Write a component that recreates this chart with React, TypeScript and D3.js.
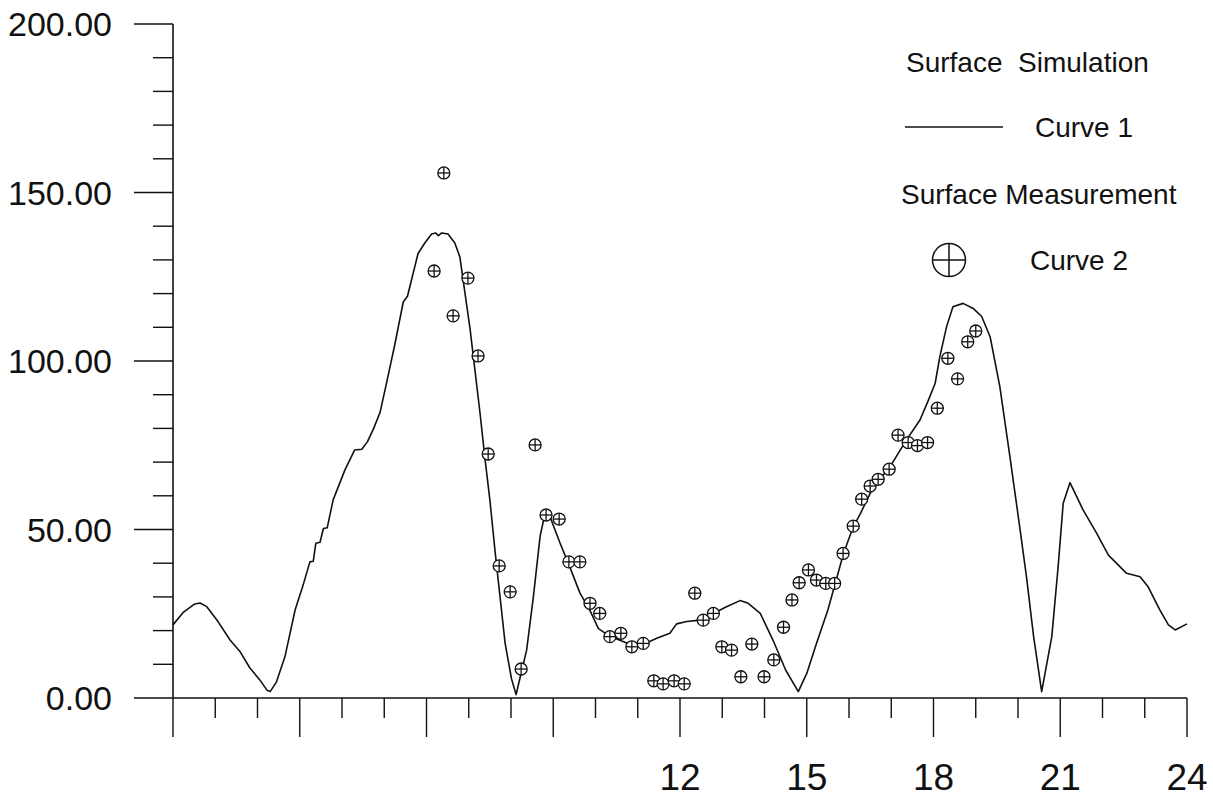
import React from "react";
import * as d3 from "d3";

// Simulated surface values (Curve 1), hour of day vs. value
const simHours = [
  0, 0.25, 0.5, 0.64, 0.8, 1.07, 1.35, 1.59, 1.82, 2.06, 2.22, 2.3, 2.45, 2.65, 2.89,
  3.08, 3.24, 3.32, 3.38, 3.48, 3.56, 3.65, 3.79, 4.07, 4.3, 4.47, 4.6, 4.75, 4.9,
  5.06, 5.25, 5.45, 5.55, 5.8, 5.96, 6.12, 6.22, 6.28, 6.36, 6.51, 6.67, 6.79, 6.91,
  7.03, 7.15, 7.27, 7.38, 7.5, 7.62, 7.74, 7.86, 8.01, 8.12, 8.21, 8.37, 8.53, 8.69,
  8.8, 8.92, 9.16, 9.4, 9.63, 9.87, 10.07, 10.34, 10.86, 11.1, 11.45, 11.76, 11.92,
  12.16, 12.47, 12.79, 13.1, 13.42, 13.6, 13.9, 14.2, 14.5, 14.8, 15.0, 15.23, 15.5,
  15.87, 16.1, 16.26, 16.58, 16.97, 17.36, 17.68, 17.88, 18.04, 18.15, 18.31, 18.46,
  18.7, 18.94, 19.14, 19.34, 19.57, 19.81, 20.05, 20.2, 20.37, 20.56, 20.8, 20.95,
  21.07, 21.23, 21.54, 21.86, 22.14, 22.57, 22.89, 23.08, 23.36, 23.56, 23.72, 24,
];
const simValues = [
  21.7, 25.5, 27.8, 28.2, 27.1, 22.6, 17.2, 13.7, 8.9, 5.3, 2.4, 1.9, 4.8, 12.3, 26.1,
  33.5, 40.4, 40.6, 45.9, 46.2, 50.3, 50.5, 58.8, 67.7, 73.6, 73.8, 76, 80, 84.7,
  93.8, 104.9, 117.5, 119.2, 131.9, 135, 137.7, 138, 137.2, 138, 137.7, 135, 130.9, 120.2,
  109.6, 96.9, 84.2, 71.5, 58.8, 43.9, 30.1, 16.3, 5.8, 1, 5.8, 14.2, 30.1, 48.1,
  54.4, 53.9, 46, 38.6, 31.2, 25.9, 20.6, 18.3, 15.7, 15.7, 17.7, 19.2, 22,
  22.7, 23.1, 25.1, 27.1, 28.9, 28.2, 25.1, 17.2, 8.3, 1.9, 7.3, 16.2, 26.1,
  42.9, 50.8, 54.5, 62.7, 68.6, 76.6, 82.5, 88.4, 93.4, 101.3, 110.2, 116.1,
  117.1, 115.6, 113.2, 107.2, 92.4, 71.5, 49.9, 36, 18.2, 1.9, 18.2, 39,
  57.8, 63.9, 55.8, 48.9, 42.4, 37, 36, 33, 26.1, 21.7, 20.2, 22,
];

// Measured surface values (Curve 2)
const measHours = [
  6.18, 6.41, 6.63, 6.98, 7.22, 7.46, 7.72, 7.98, 8.24, 8.57, 8.83, 9.14, 9.37, 9.63,
  9.87, 10.1, 10.34, 10.6, 10.86, 11.13, 11.38, 11.6, 11.86, 12.1, 12.35, 12.55, 12.79,
  12.99, 13.22, 13.44, 13.7, 13.99, 14.22, 14.45, 14.65, 14.82, 15.04, 15.23, 15.45,
  15.66, 15.86, 16.1, 16.3, 16.5, 16.69, 16.95, 17.16, 17.4, 17.62, 17.86, 18.09,
  18.34, 18.57, 18.81, 19.0,
];
const measValues = [
  126.7, 155.8, 113.4, 124.6, 101.5, 72.4, 39.2, 31.5, 8.6, 75.1, 54.3, 53.1, 40.4, 40.4,
  28.1, 25.1, 18.2, 19.2, 15.2, 16.2, 5.1, 4.2, 5.1, 4.2, 31.1, 23.1, 25.1,
  15.2, 14.2, 6.3, 16, 6.3, 11.3, 21, 29.1, 34.2, 38, 35, 34,
  34, 42.9, 51, 59, 62.9, 64.9, 67.9, 78, 75.8, 74.9, 75.8, 86,
  100.8, 94.7, 105.7, 108.9,
];

// Axis ticks and labels
const yMajorTicks = [0, 50, 100, 150, 200];
const yMajorLabels = ["0.00", "50.00", "100.00", "150.00", "200.00"];
const yMinorStep = 10;
const xTickStep = 1;
const xMajorStep = 3;
const xLabelTicks = [12, 15, 18, 21, 24];

const legendTitle1 = "Surface  Simulation";
const legendName1 = "Curve 1";
const legendTitle2 = "Surface Measurement";
const legendName2 = "Curve 2";

const FONT = "'Liberation Sans', Arial, Helvetica, sans-serif";

function CrossCircle({ cx, cy, r, sw }: { cx: number; cy: number; r: number; sw: number }) {
  return (
    <g>
      <circle cx={cx} cy={cy} r={r} fill="white" stroke="#111" strokeWidth={sw} />
      <line x1={cx - r} x2={cx + r} y1={cy} y2={cy} stroke="#111" strokeWidth={sw} />
      <line x1={cx} x2={cx} y1={cy - r} y2={cy + r} stroke="#111" strokeWidth={sw} />
    </g>
  );
}

export default function App() {
  const width = 1213;
  const height = 801;
  const x = d3.scaleLinear().domain([0, 24]).range([173, 1187]);
  const y = d3.scaleLinear().domain([0, 200]).range([698, 24]);

  const simPoints: [number, number][] = simHours.map((h, i) => [h, simValues[i]]);
  const line = d3
    .line<[number, number]>()
    .x((d) => x(d[0]))
    .y((d) => y(d[1]))
    .curve(d3.curveLinear);

  const yMinor = d3.range(0, 200 + 1e-9, yMinorStep).filter((v) => v % 50 !== 0);
  const xTicks = d3.range(0, 24 + 1e-9, xTickStep);

  const axisColor = "#111";
  const x0 = x(0);
  const y0 = y(0);

  return (
    <svg
      width={width}
      height={height}
      style={{ position: "absolute", left: 0, top: 0, background: "white" }}
      fontFamily={FONT}
    >
      <rect x={0} y={0} width={width} height={height} fill="white" />

      {/* y axis */}
      <line x1={x0} x2={x0} y1={y(200)} y2={y0} stroke={axisColor} strokeWidth={1.6} />
      {yMajorTicks.map((v, i) => (
        <g key={"ym" + v}>
          <line x1={x0 - 39} x2={x0} y1={y(v)} y2={y(v)} stroke={axisColor} strokeWidth={1.4} />
          <text
            x={x0 - 61}
            y={y(v)}
            textAnchor="end"
            dominantBaseline="central"
            fontSize={34}
            fill="#111"
          >
            {yMajorLabels[i]}
          </text>
        </g>
      ))}
      {yMinor.map((v) => (
        <line key={"yn" + v} x1={x0 - 20} x2={x0} y1={y(v)} y2={y(v)} stroke={axisColor} strokeWidth={1.4} />
      ))}

      {/* x axis */}
      <line x1={x0} x2={x(24)} y1={y0} y2={y0} stroke={axisColor} strokeWidth={1.6} />
      {xTicks.map((h) => {
        const major = Math.abs(h % xMajorStep) < 1e-9;
        return (
          <line
            key={"xt" + h}
            x1={x(h)}
            x2={x(h)}
            y1={y0}
            y2={y0 + (major ? 39 : 20)}
            stroke={axisColor}
            strokeWidth={1.4}
          />
        );
      })}
      {xLabelTicks.map((h) => (
        <text key={"xl" + h} x={x(h)} y={790} textAnchor="middle" fontSize={37} fill="#111">
          {String(h)}
        </text>
      ))}

      {/* simulation curve */}
      <path d={line(simPoints) ?? ""} fill="none" stroke="#111" strokeWidth={1.6} strokeLinejoin="round" />

      {/* measurement markers */}
      {measHours.map((h, i) => (
        <CrossCircle key={"m" + i} cx={x(h)} cy={y(measValues[i])} r={6} sw={1.3} />
      ))}

      {/* legend */}
      <text x={906} y={72} fontSize={28} fill="#111">
        <tspan style={{ whiteSpace: "pre" }}>{legendTitle1}</tspan>
      </text>
      <line x1={905} x2={1003} y1={127} y2={127} stroke="#111" strokeWidth={1.5} />
      <text x={1035} y={137} fontSize={28} fill="#111">
        {legendName1}
      </text>
      <text x={901} y={204} fontSize={28} fill="#111">
        {legendTitle2}
      </text>
      <CrossCircle cx={949} cy={260} r={16.5} sw={1.5} />
      <text x={1030} y={270} fontSize={28} fill="#111">
        {legendName2}
      </text>
    </svg>
  );
}
